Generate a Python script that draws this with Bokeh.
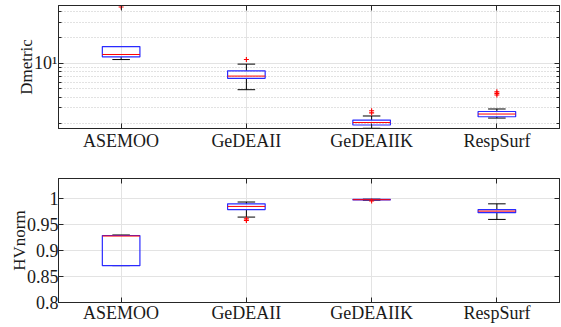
from bokeh.plotting import figure
from bokeh.layouts import column
from bokeh.models import FixedTicker, LinearAxis, LogAxis, CustomJSTickFormatter, AllLabels
from bokeh.embed import file_html
from bokeh.resources import INLINE

methods = ["ASEMOO", "GeDEAII", "GeDEAIIK", "RespSurf"]
positions = [1, 2, 3, 4]

# Dmetric (log scale) box statistics
d_lo = [11.0, 4.9, 1.74, 2.29]
d_q1 = [11.8, 6.64, 1.90, 2.37]
d_med = [12.6, 7.06, 2.03, 2.55]
d_q3 = [15.6, 8.14, 2.17, 2.73]
d_hi = [15.6, 9.73, 2.42, 2.92]
d_out_m = ["ASEMOO", "GeDEAII", "GeDEAIIK", "GeDEAIIK", "RespSurf", "RespSurf", "RespSurf"]
d_out_v = [45.0, 11.0, 2.79, 2.63, 4.64, 4.44, 4.25]
d_major = [10]
d_minor = [2, 3, 4, 5, 6, 7, 8, 9, 20, 30, 40]
d_major_labels = ["10\u00b9"]

# HVnorm box statistics
h_lo = [0.871, 0.9645, 0.997, 0.960]
h_q1 = [0.871, 0.979, 0.9975, 0.973]
h_med = [0.928, 0.985, 0.998, 0.976]
h_q3 = [0.929, 0.990, 0.9985, 0.979]
h_hi = [0.930, 0.9935, 0.999, 0.990]
h_out_m = ["GeDEAII", "GeDEAII", "GeDEAIIK"]
h_out_v = [0.961, 0.958, 0.9955]
h_ticks = [0.8, 0.85, 0.9, 0.95, 1.0]
h_tick_labels = ["0.8", "0.85", "0.9", "0.95", "1"]

FONT = "Liberation Serif"
FS = "18px"
AX = "#262626"
BOX_W = 0.3
CAP_W = 0.14
LEFT = 58

LOOKUP = """
for (let i = 0; i < tvals.length; i++) {
  if (Math.abs(tvals[i] - tick) < 1e-9) { return tlabels[i]; }
}
return "";
"""


def lookup_formatter(vals, labels):
    return CustomJSTickFormatter(args=dict(tvals=list(vals), tlabels=list(labels)), code=LOOKUP)


def style_axis(ax, ticker, show_labels, standoff=2):
    ax.ticker = ticker
    ax.axis_line_color = AX
    ax.major_tick_line_color = AX
    ax.minor_tick_line_color = AX
    ax.major_tick_in = 5
    ax.major_tick_out = 0
    ax.minor_tick_in = 3
    ax.minor_tick_out = 0
    ax.major_label_text_font = FONT
    ax.major_label_text_color = "#1a1a1a"
    ax.major_label_policy = AllLabels()
    ax.axis_label_text_font = FONT
    ax.axis_label_text_font_size = "17px"
    ax.axis_label_text_font_style = "normal"
    ax.axis_label_text_color = "#1a1a1a"
    ax.axis_label_standoff = -5
    if show_labels:
        ax.major_label_text_font_size = FS
        ax.major_label_standoff = standoff
    else:
        ax.formatter = CustomJSTickFormatter(code="return '';")
        ax.major_label_text_font_size = "1px"
        ax.major_label_text_alpha = 0
        ax.major_label_standoff = 0


def draw_boxes(p, lo, q1, med, q3, hi, out_m, out_v):
    pos = positions
    p.segment(x0=pos, x1=pos, y0=q3, y1=hi, line_color="black", line_width=1)
    p.segment(x0=pos, x1=pos, y0=lo, y1=q1, line_color="black", line_width=1)
    p.segment(x0=[x - CAP_W / 2 for x in pos], x1=[x + CAP_W / 2 for x in pos],
              y0=hi, y1=hi, line_color="black", line_width=1)
    p.segment(x0=[x - CAP_W / 2 for x in pos], x1=[x + CAP_W / 2 for x in pos],
              y0=lo, y1=lo, line_color="black", line_width=1)
    p.vbar(x=pos, bottom=q1, top=q3, width=BOX_W, fill_color=None,
           line_color="#2a2aff", line_width=1.2)
    p.segment(x0=[x - BOX_W / 2 for x in pos], x1=[x + BOX_W / 2 for x in pos],
              y0=med, y1=med, line_color="red", line_width=1)
    ox = [positions[methods.index(m)] for m in out_m]
    p.scatter(x=ox, y=out_v, marker="cross", size=5, line_color="red", line_width=1.1)


x_ticker = FixedTicker(ticks=positions)

# ---- top: Dmetric ----
p1 = figure(width=561, height=160, x_range=(0.5, 4.5), y_range=(1.73, 46.9),
            y_axis_type="log", output_backend="svg", toolbar_location=None,
            min_border_left=LEFT, min_border_right=2, min_border_top=5, min_border_bottom=32)
p1.outline_line_color = AX
d_ticker = FixedTicker(ticks=d_major, minor_ticks=d_minor)
style_axis(p1.xaxis[0], x_ticker, True, standoff=2)
p1.xaxis[0].formatter = lookup_formatter(positions, methods)
style_axis(p1.yaxis[0], d_ticker, True, standoff=1)
p1.yaxis[0].formatter = lookup_formatter(d_major, d_major_labels)
p1.yaxis[0].axis_label = "Dmetric"
ax_r = LogAxis()
style_axis(ax_r, d_ticker, False)
p1.add_layout(ax_r, "right")
ax_t = LinearAxis()
style_axis(ax_t, x_ticker, False)
p1.add_layout(ax_t, "above")
p1.xgrid.ticker = x_ticker
p1.xgrid.grid_line_color = "#e3e3e3"
p1.ygrid.ticker = d_ticker
p1.ygrid.grid_line_color = "#e3e3e3"
p1.ygrid.minor_grid_line_color = "#c4c4c4"
p1.ygrid.minor_grid_line_dash = "1 2"
draw_boxes(p1, d_lo, d_q1, d_med, d_q3, d_hi, d_out_m, d_out_v)

# ---- bottom: HVnorm ----
p2 = figure(width=561, height=167, x_range=(0.5, 4.5), y_range=(0.8, 1.0388),
            output_backend="svg", toolbar_location=None,
            min_border_left=LEFT, min_border_right=2, min_border_top=18, min_border_bottom=25)
p2.outline_line_color = AX
h_ticker = FixedTicker(ticks=h_ticks)
style_axis(p2.xaxis[0], x_ticker, True, standoff=0)
p2.xaxis[0].formatter = lookup_formatter(positions, methods)
style_axis(p2.yaxis[0], h_ticker, True, standoff=0)
p2.yaxis[0].formatter = lookup_formatter(h_ticks, h_tick_labels)
p2.yaxis[0].axis_label = "HVnorm"
ax_r2 = LinearAxis()
style_axis(ax_r2, h_ticker, False)
p2.add_layout(ax_r2, "right")
ax_t2 = LinearAxis()
style_axis(ax_t2, x_ticker, False)
p2.add_layout(ax_t2, "above")
p2.xgrid.ticker = x_ticker
p2.xgrid.grid_line_color = "#e3e3e3"
p2.ygrid.ticker = h_ticker
p2.ygrid.grid_line_color = "#e3e3e3"
draw_boxes(p2, h_lo, h_q1, h_med, h_q3, h_hi, h_out_m, h_out_v)

layout = column(p1, p2, spacing=0)
open("out.html", "w").write(file_html(layout, INLINE))
